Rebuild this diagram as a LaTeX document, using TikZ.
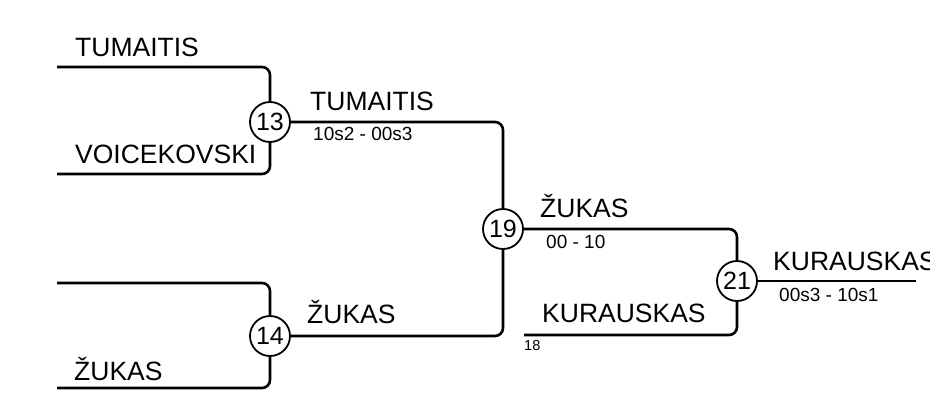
\documentclass[tikz,border=0pt]{standalone}
\usepackage{fontspec}
\setmainfont{Liberation Sans}
\tikzset{
  match/.style={draw, circle, line width=1.8pt, minimum size=40pt, inner sep=0pt, fill=white, font=\fontsize{25}{25}\selectfont},
  player/.style={anchor=base west, inner sep=0pt, font=\fontsize{26.5}{26.5}\selectfont},
  score/.style={anchor=base west, inner sep=0pt, font=\fontsize{19}{19}\selectfont},
  seed/.style={anchor=base west, inner sep=0pt, font=\fontsize{14.5}{14.5}\selectfont},
  branch/.style={line width=2.6pt, rounded corners=8pt}
}
\begin{document}
\begin{tikzpicture}[x=1pt,y=-1pt]
        \useasboundingbox (0,0) rectangle (930,394);
        % free line ends
        \coordinate (in1) at (57,67);
        \coordinate (in2) at (57,174);
        \coordinate (in3) at (57,283);
        \coordinate (in4) at (57,388);
        \coordinate (in18) at (524,335);
        \coordinate (out) at (916,281);
        % matches
        \node[match] (m13) at (270,122) {13};
        \node[match] (m14) at (270,336) {14};
        \node[match] (m19) at (503,229) {19};
        \node[match] (m21) at (737,281) {21};
        \draw[branch] (in1) -| (m13);
        \draw[branch] (in2) -| (m13);
        \draw[branch] (in3) -| (m14);
        \draw[branch] (in4) -| (m14);
        \draw[branch] (m13) -| (m19);
        \draw[branch] (m14) -| (m19);
        \draw[branch] (m19) -| (m21);
        \draw[branch] (in18) -| (m21);
        \draw[branch] (m21) -- (out);
        % names and scores
        \node[player] (p1) at (75,56) {TUMAITIS};
        \node[player] (p2) at (75,163) {VOICEKOVSKI};
        \node[player] (p4) at (74,380) {ŽUKAS};
        \node[player] (w13) at (310,110) {TUMAITIS};
        \node[score] (s13) at (313,140) {10s2 - 00s3};
        \node[player] (w14) at (307,323) {ŽUKAS};
        \node[player] (w19) at (540,217) {ŽUKAS};
        \node[score] (s19) at (546,248) {00 - 10};
        \node[player] (p18) at (542,322) {KURAUSKAS};
        \node[seed] (n18) at (524,350) {18};
        \node[player] (w21) at (773,270) {KURAUSKAS};
        \node[score] (s21) at (779,301) {00s3 - 10s1};
    \end{tikzpicture}
\end{document}
